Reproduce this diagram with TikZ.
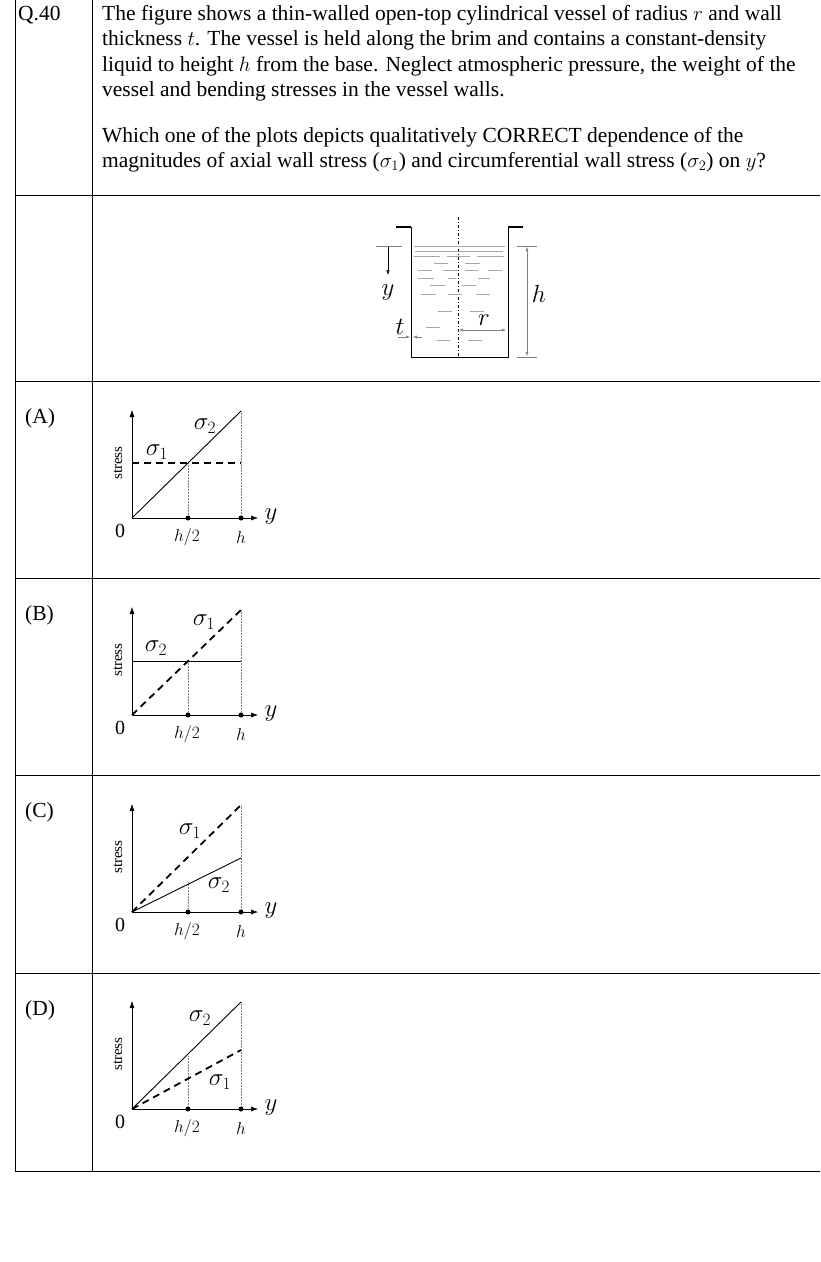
\documentclass[tikz,border=0pt]{standalone}
\usepackage{fontspec}
\setmainfont{Liberation Serif}
\usetikzlibrary{arrows.meta}
\begin{document}
\begin{tikzpicture}[x=1pt,y=-1pt,
  body/.style={anchor=west,inner sep=0,font=\fontsize{21.5}{24}\selectfont},
  ax/.style={line width=0.5pt,-{Latex[length=7pt,width=5pt]}},
  dot/.style={circle,fill,inner sep=0,minimum size=5pt},
  dott/.style={densely dotted,line width=0.5pt,gray},
  solidl/.style={line width=0.9pt},
  dashl/.style={line width=1.8pt,dash pattern=on 7pt off 5pt},
  sig/.style={font=\fontsize{24}{24}\selectfont,inner sep=0},
  tick/.style={font=\fontsize{18}{18}\selectfont,inner sep=0},
  liq/.style={line width=0.6pt,gray!70}]
\useasboundingbox (0,0) rectangle (820,1262);
\draw[line width=0.6pt] (15,0) -- (15,1171) (92,0) -- (92,1171);
\foreach \yy in {195,381,578,775,973,1171} \draw[line width=0.6pt] (15,\yy) -- (820,\yy);
\node[body] (q) at (18,15) {Q.40};
\node[body] (l1) at (102,15) {The figure shows a thin-walled open-top cylindrical vessel of radius $r$ and wall};
\node[body] (l2) at (102,40) {thickness $t$. The vessel is held along the brim and contains a constant-density};
\node[body] (l3) at (102,66) {liquid to height $h$ from the base. Neglect atmospheric pressure, the weight of the};
\node[body] (l4) at (102,91) {vessel and bending stresses in the vessel walls.};
\node[body] (l5) at (102,137) {Which one of the plots depicts qualitatively CORRECT dependence of the};
\node[body] (l6) at (102,162) {magnitudes of axial wall stress ($\sigma_1$) and circumferential wall stress ($\sigma_2$) on $y$?};
\node[body] (la) at (25,418) {(A)};
\node[body] (lb) at (25,615) {(B)};
\node[body] (lc) at (25,812) {(C)};
\node[body] (ld) at (25,1010) {(D)};
% vessel
\draw[line width=0.8pt] (411,227) -- (411,357) -- (508,357) -- (508,227);
\draw[line width=2.2pt] (396,227) -- (411,227) (508,227) -- (523,227);
\draw[line width=0.5pt,dash pattern=on 3pt off 2pt on 1pt off 2pt] (458,217) -- (458,357);
\draw[liq] (414,246) -- (505,246) (415,251) -- (503,251);
\foreach \a/\b/\c in {414/440/256,447/470/256,477/504/256,434/448/263,465/480/263,418/432/270,443/458/270,465/478/270,488/502/270,418/434/278,448/456/278,478/490/278,430/445/285,462/476/285,421/436/294,448/462/294,476/490/294,438/452/311,470/484/311,426/440/327,437/450/340,468/482/340}
  \draw[liq] (\a,\c) -- (\b,\c);
\draw[line width=0.4pt,gray] (376,246) -- (402,246);
\draw[line width=0.5pt,-{Latex[length=5pt,width=3.5pt]}] (388,247) -- (388,275);
\node[sig] (yv) at (388,293) {$y$};
\draw[line width=0.4pt,gray] (517,246) -- (537,246) (517,357) -- (537,357);
\draw[line width=0.4pt,gray,{Latex[length=4pt,width=3pt]}-{Latex[length=4pt,width=3pt]}] (527,247) -- (527,356);
\node[sig] (hv) at (539,294) {$h$};
\draw[line width=0.4pt,gray,{Latex[length=4pt,width=3pt]}-{Latex[length=4pt,width=3pt]}] (459,330) -- (506,330);
\node[sig] (rv) at (484,320) {$r$};
\draw[line width=0.4pt,gray,-{Latex[length=4pt,width=3pt]}] (398,337) -- (410,337);
\draw[line width=0.4pt,gray,-{Latex[length=4pt,width=3pt]}] (422,337) -- (413,337);
\node[sig] (tv) at (400,327) {$t$};
% plots
\foreach \oy/\p in {518/A,715/B,912/C,1109/D}{
  \begin{scope}[yshift=-\oy]
  \coordinate (o\p) at (132,0);
  \draw[ax] (132,0) -- (132,-108);
  \draw[ax] (132,0) -- (258,0);
  \node[dot] (m\p) at (188,0) {};
  \node[dot] (e\p) at (241,0) {};
  \node[sig] (yl\p) at (271,-1) {$y$};
  \node[font=\fontsize{20}{20}\selectfont,inner sep=0] (z\p) at (120,13) {0};
  \node[tick] (hh\p) at (187,19) {$h/2$};
  \node[tick] (h\p) at (241,19) {$h$};
  \node[rotate=90,font=\fontsize{15}{15}\selectfont,inner sep=0] (s\p) at (118,-55) {stress};
  \end{scope}}
% A
\draw[dott] (188,463) -- (mA); \draw[dott] (241,411) -- (eA);
\draw[solidl] (oA) -- (241,411);
\draw[dashl] (132,463) -- (241,463);
\node[sig] (a2) at (205,426) {$\sigma_2$};
\node[sig] (a1) at (157,452) {$\sigma_1$};
% B
\draw[dott] (188,661) -- (mB); \draw[dott] (241,610) -- (eB);
\draw[solidl] (132,661) -- (241,661);
\draw[dashl] (oB) -- (241,610);
\node[sig] (b2) at (156,648) {$\sigma_2$};
\node[sig] (b1) at (204,622) {$\sigma_1$};
% C
\draw[dott] (188,882) -- (mC); \draw[dott] (241,805) -- (eC);
\draw[solidl] (oC) -- (241,858);
\draw[dashl] (oC) -- (241,805);
\node[sig] (c1) at (190,831) {$\sigma_1$};
\node[sig] (c2) at (219,885) {$\sigma_2$};
% D
\draw[dott] (188,1056) -- (mD); \draw[dott] (241,1002) -- (eD);
\draw[solidl] (oD) -- (241,1002);
\draw[dashl] (oD) -- (241,1050);
\node[sig] (d2) at (200,1018) {$\sigma_2$};
\node[sig] (d1) at (220,1082) {$\sigma_1$};
\end{tikzpicture}
\end{document}
